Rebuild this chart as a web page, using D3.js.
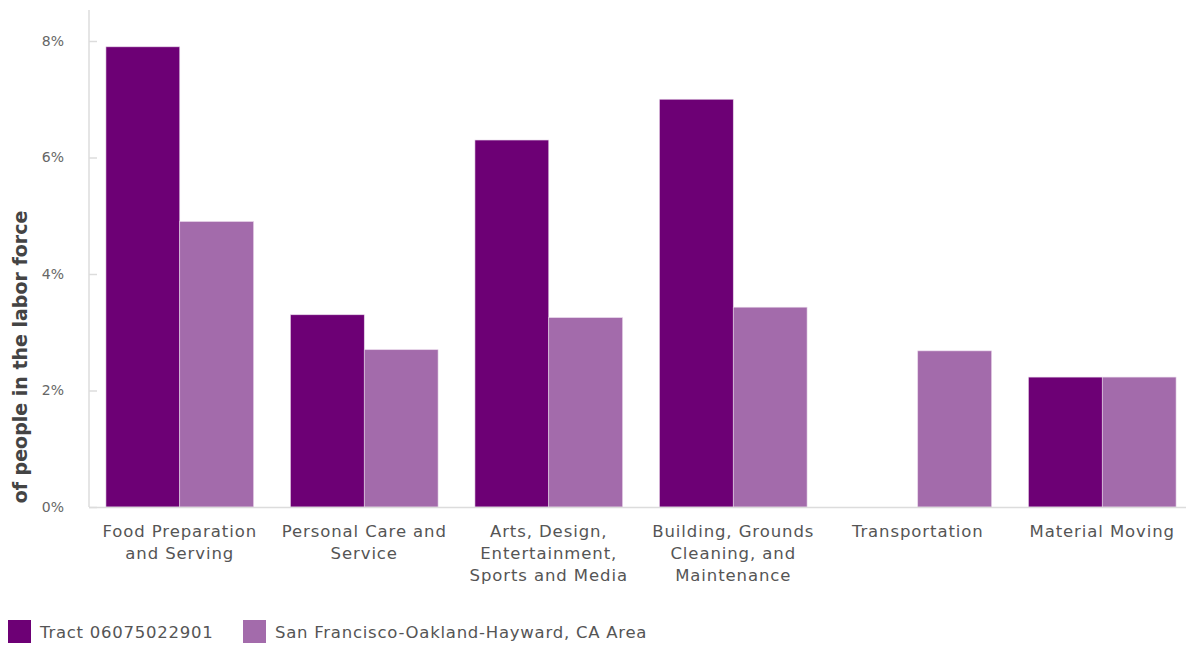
<!DOCTYPE html>
<html>
<head>
<meta charset="utf-8">
<script src="https://cdn.jsdelivr.net/npm/d3@7"></script>
<style>
  html, body { margin: 0; padding: 0; background: #fff; }
  svg { display: block; font-family: "DejaVu Sans", Verdana, sans-serif; }
</style>
</head>
<body>
<svg id="chart" width="1186" height="646"></svg>
<script>
// Occupation categories (multi-line labels)
const categories = [
  ["Food Preparation", "and Serving"],
  ["Personal Care and", "Service"],
  ["Arts, Design,", "Entertainment,", "Sports and Media"],
  ["Building, Grounds", "Cleaning, and", "Maintenance"],
  ["Transportation"],
  ["Material Moving"]
];
const seriesNames = ["Tract 06075022901", "San Francisco-Oakland-Hayward, CA Area"];
const tractValues = [7.9, 3.3, 6.3, 7.0, 0, 2.23];
const areaValues  = [4.9, 2.7, 3.25, 3.43, 2.68, 2.23];
const yTicks = [0, 2, 4, 6, 8];
const colors = ["#6d0075", "#a36bab"];

const svg = d3.select("#chart");
const margin = { left: 89, top: 10, bottom: 507 };

const x0 = d3.scaleBand()
  .domain(d3.range(categories.length))
  .range([87.5, 1194.5])
  .paddingInner(0.2)
  .paddingOuter(0.1);
const x1 = d3.scaleBand()
  .domain([0, 1])
  .range([0, x0.bandwidth()]);
const y = d3.scaleLinear().domain([0, 8]).range([507, 41]);

// Y axis line and ticks
svg.append("line")
  .attr("x1", margin.left).attr("x2", margin.left)
  .attr("y1", margin.top).attr("y2", 507)
  .attr("stroke", "#dcdcdc").attr("stroke-width", 1.5);

const yAxis = svg.append("g")
  .attr("transform", `translate(${margin.left},0)`)
  .call(d3.axisRight(y).tickValues(yTicks).tickSize(8).tickFormat(""));
yAxis.select(".domain").remove();
yAxis.selectAll(".tick line").attr("stroke", "#dcdcdc").attr("stroke-width", 1.5);

svg.append("g").selectAll("text")
  .data(yTicks)
  .join("text")
  .attr("x", 64)
  .attr("y", d => y(d))
  .attr("dy", "0.35em")
  .attr("text-anchor", "end")
  .attr("fill", "#666")
  .attr("font-size", 14)
  .text(d => d + "%");

// Y axis title
svg.append("text")
  .attr("transform", "translate(20,357) rotate(-90)")
  .attr("text-anchor", "middle")
  .attr("dy", "0.35em")
  .attr("font-size", 19)
  .attr("font-weight", "bold")
  .attr("fill", "#444")
  .text("of people in the labor force");

// Bars
const groups = svg.append("g").selectAll("g")
  .data(categories.map((c, i) => ({ i, vals: [tractValues[i], areaValues[i]] })))
  .join("g")
  .attr("transform", d => `translate(${x0(d.i)},0)`);

groups.selectAll("rect")
  .data(d => d.vals.map((v, s) => ({ v, s })).filter(d => d.v > 0))
  .join("rect")
  .attr("x", d => x1(d.s))
  .attr("width", x1.bandwidth())
  .attr("y", d => y(d.v))
  .attr("height", d => y(0) - y(d.v))
  .attr("fill", d => colors[d.s])
  .attr("stroke", "#e6d3e8")
  .attr("stroke-width", 0.6);

// Baseline
svg.append("line")
  .attr("x1", margin.left).attr("x2", 1186)
  .attr("y1", 507.5).attr("y2", 507.5)
  .attr("stroke", "#dcdcdc").attr("stroke-width", 1.5);

// Category labels
svg.append("g").selectAll("text")
  .data(categories.map((c, i) => ({ c, i })))
  .join("text")
  .attr("text-anchor", "middle")
  .attr("fill", "#555")
  .attr("font-size", 16.5)
  .attr("letter-spacing", 0.9)
  .attr("x", d => x0(d.i) + x0.bandwidth() / 2)
  .attr("y", 537)
  .selectAll("tspan")
  .data(d => d.c.map(line => ({ line, x: x0(d.i) + x0.bandwidth() / 2 })))
  .join("tspan")
  .attr("x", d => d.x)
  .attr("dy", (d, j) => j === 0 ? 0 : 22)
  .text(d => d.line);

// Legend
const legendX = [8, 243];
const legend = svg.append("g").selectAll("g")
  .data(seriesNames.map((n, i) => ({ n, i })))
  .join("g")
  .attr("transform", d => `translate(${legendX[d.i]},620)`);
legend.append("rect")
  .attr("width", 23).attr("height", 23)
  .attr("fill", d => colors[d.i]);
legend.append("text")
  .attr("x", 32).attr("y", 12)
  .attr("dy", "0.35em")
  .attr("fill", "#555")
  .attr("font-size", 16.5)
  .attr("letter-spacing", 0.75)
  .text(d => d.n);
</script>
</body>
</html>
